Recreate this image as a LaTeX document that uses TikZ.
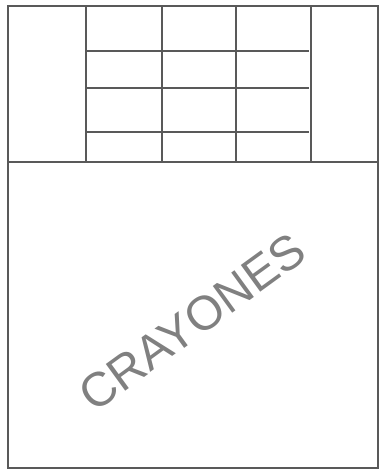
\documentclass[tikz,border=0pt]{standalone}
\usepackage{fontspec}
\setmainfont{Liberation Sans}
\usetikzlibrary{positioning}
\tikzset{
  sketch/.style={draw=black!65, line width=0.9pt},
  handtext/.style={text=black!50, font=\fontsize{36}{40}\selectfont, inner sep=0pt}
}
\begin{document}
\begin{tikzpicture}[x=0.75pt,y=-0.75pt]
        \useasboundingbox (0,0) rectangle (382,473);
        % Frame corners
        \coordinate (TL) at (8,6);
        \coordinate (BR) at (378,468);
        \coordinate (ML) at (8,162);
        \coordinate (MR) at (378,162);

        % --- Outer frame and divider ---
        \draw[sketch] (TL) rectangle (BR);
        \draw[sketch] (ML) -- (MR);

        % --- Top: shelf grid ---
        \foreach \x in {86,162,236,311}
        {
            \draw[sketch] (\x,6) -- (\x,162);
        }
        \foreach \y in {51,88,132}
        {
            \draw[sketch] (86,\y) -- (309,\y);
        }

        % --- Bottom: label ---
        \node[handtext, rotate=36] (crayones) at (192,322) {CRAYONES};
    \end{tikzpicture}
\end{document}
